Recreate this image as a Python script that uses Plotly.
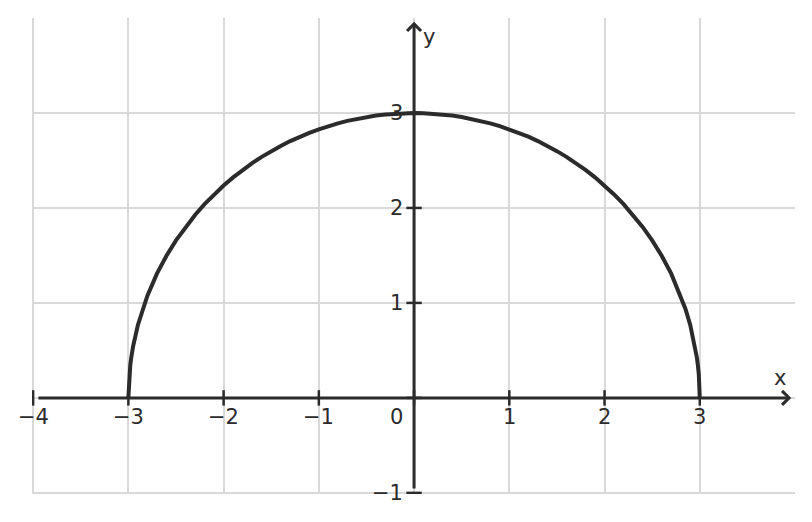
import plotly.graph_objects as go

# semicircle (radius 3, upper half)
curve_x = [-3.0, -2.99, -2.98, -2.97, -2.95, -2.9, -2.85, -2.8, -2.7, -2.6, -2.5, -2.4,
           -2.3, -2.2, -2.1, -2.0, -1.9, -1.8, -1.7, -1.6, -1.5, -1.4, -1.3, -1.2,
           -1.1, -1.0, -0.9, -0.8, -0.7, -0.6, -0.5, -0.4, -0.3, -0.2, -0.1, 0.0,
           0.1, 0.2, 0.3, 0.4, 0.5, 0.6, 0.7, 0.8, 0.9, 1.0, 1.1, 1.2, 1.3, 1.4,
           1.5, 1.6, 1.7, 1.8, 1.9, 2.0, 2.1, 2.2, 2.3, 2.4, 2.5, 2.6, 2.7, 2.8,
           2.85, 2.9, 2.95, 2.97, 2.98, 2.99, 3.0]
curve_y = [0.0, 0.245, 0.346, 0.423, 0.545, 0.768, 0.937, 1.077, 1.308, 1.497, 1.658, 1.8,
           1.926, 2.04, 2.142, 2.236, 2.322, 2.4, 2.472, 2.538, 2.598, 2.653, 2.704, 2.75,
           2.791, 2.828, 2.862, 2.891, 2.917, 2.939, 2.958, 2.973, 2.985, 2.993, 2.998, 3.0,
           2.998, 2.993, 2.985, 2.973, 2.958, 2.939, 2.917, 2.891, 2.862, 2.828, 2.791, 2.75,
           2.704, 2.653, 2.598, 2.538, 2.472, 2.4, 2.322, 2.236, 2.142, 2.04, 1.926, 1.8,
           1.658, 1.497, 1.308, 1.077, 0.937, 0.768, 0.545, 0.423, 0.346, 0.245, 0.0]

x_ticks = [-4, -3, -2, -1, 0, 1, 2, 3]
y_ticks = [-1, 0, 1, 2, 3]
x_labels = ["−4", "−3", "−2", "−1", "", "1", "2", "3"]
y_labels = ["−1", "", "1", "2", "3"]

ink = "#2b2b2b"
font = "DejaVu Sans"

fig = go.Figure()

fig.add_trace(go.Scatter(x=curve_x, y=curve_y, mode="lines",
                         line=dict(color=ink, width=4), hoverinfo="skip"))

# cross ticks on the axes
fig.add_trace(go.Scatter(x=x_ticks, y=[0] * len(x_ticks), mode="markers",
                         marker=dict(symbol="line-ns", size=11, line=dict(color=ink, width=2.5)),
                         hoverinfo="skip"))
fig.add_trace(go.Scatter(x=[0] * len(y_ticks), y=y_ticks, mode="markers",
                         marker=dict(symbol="line-ew", size=11, line=dict(color=ink, width=2.5)),
                         hoverinfo="skip"))

annotations = []
# axis lines with arrow heads
annotations.append(dict(x=3.96, y=0, ax=-3.96, ay=0, xref="x", yref="y", axref="x", ayref="y",
                        text="", showarrow=True, arrowhead=4, arrowsize=0.9,
                        arrowwidth=3, arrowcolor=ink))
annotations.append(dict(x=0, y=3.96, ax=0, ay=-0.97, xref="x", yref="y", axref="x", ayref="y",
                        text="", showarrow=True, arrowhead=4, arrowsize=0.9,
                        arrowwidth=3, arrowcolor=ink))

for v, t in zip(x_ticks, x_labels):
    if t:
        annotations.append(dict(x=v, y=0, text=t, showarrow=False, yshift=-19,
                                xanchor="center", yanchor="middle"))
for v, t in zip(y_ticks, y_labels):
    if t:
        annotations.append(dict(x=0, y=v, text=t, showarrow=False, xshift=-9,
                                xanchor="right", yanchor="middle"))
annotations.append(dict(x=0, y=0, text="0", showarrow=False, xshift=-9, yshift=-19,
                        xanchor="right", yanchor="middle"))
annotations.append(dict(x=3.84, y=0, text="x", showarrow=False, yshift=20,
                        xanchor="center", yanchor="middle"))
annotations.append(dict(x=0, y=3.8, text="y", showarrow=False, xshift=15,
                        xanchor="center", yanchor="middle"))

# page body has an 8px margin, so the figure is a bit smaller than the window
fig.update_layout(
    width=804, height=514,
    margin=dict(l=24, r=17, t=10, b=28),
    plot_bgcolor="white",
    paper_bgcolor="white",
    showlegend=False,
    font=dict(family=font, size=21, color=ink),
    annotations=annotations,
    xaxis=dict(range=[-4.012, 4], tickvals=x_ticks, showticklabels=False, ticks="",
               showgrid=True, gridcolor="#d9d9d9", gridwidth=2, zeroline=False,
               showline=False, fixedrange=True),
    yaxis=dict(range=[-1.012, 4], tickvals=y_ticks, showticklabels=False, ticks="",
               showgrid=True, gridcolor="#d9d9d9", gridwidth=2, zeroline=False,
               showline=False, fixedrange=True),
)

fig.write_html("out.html")
